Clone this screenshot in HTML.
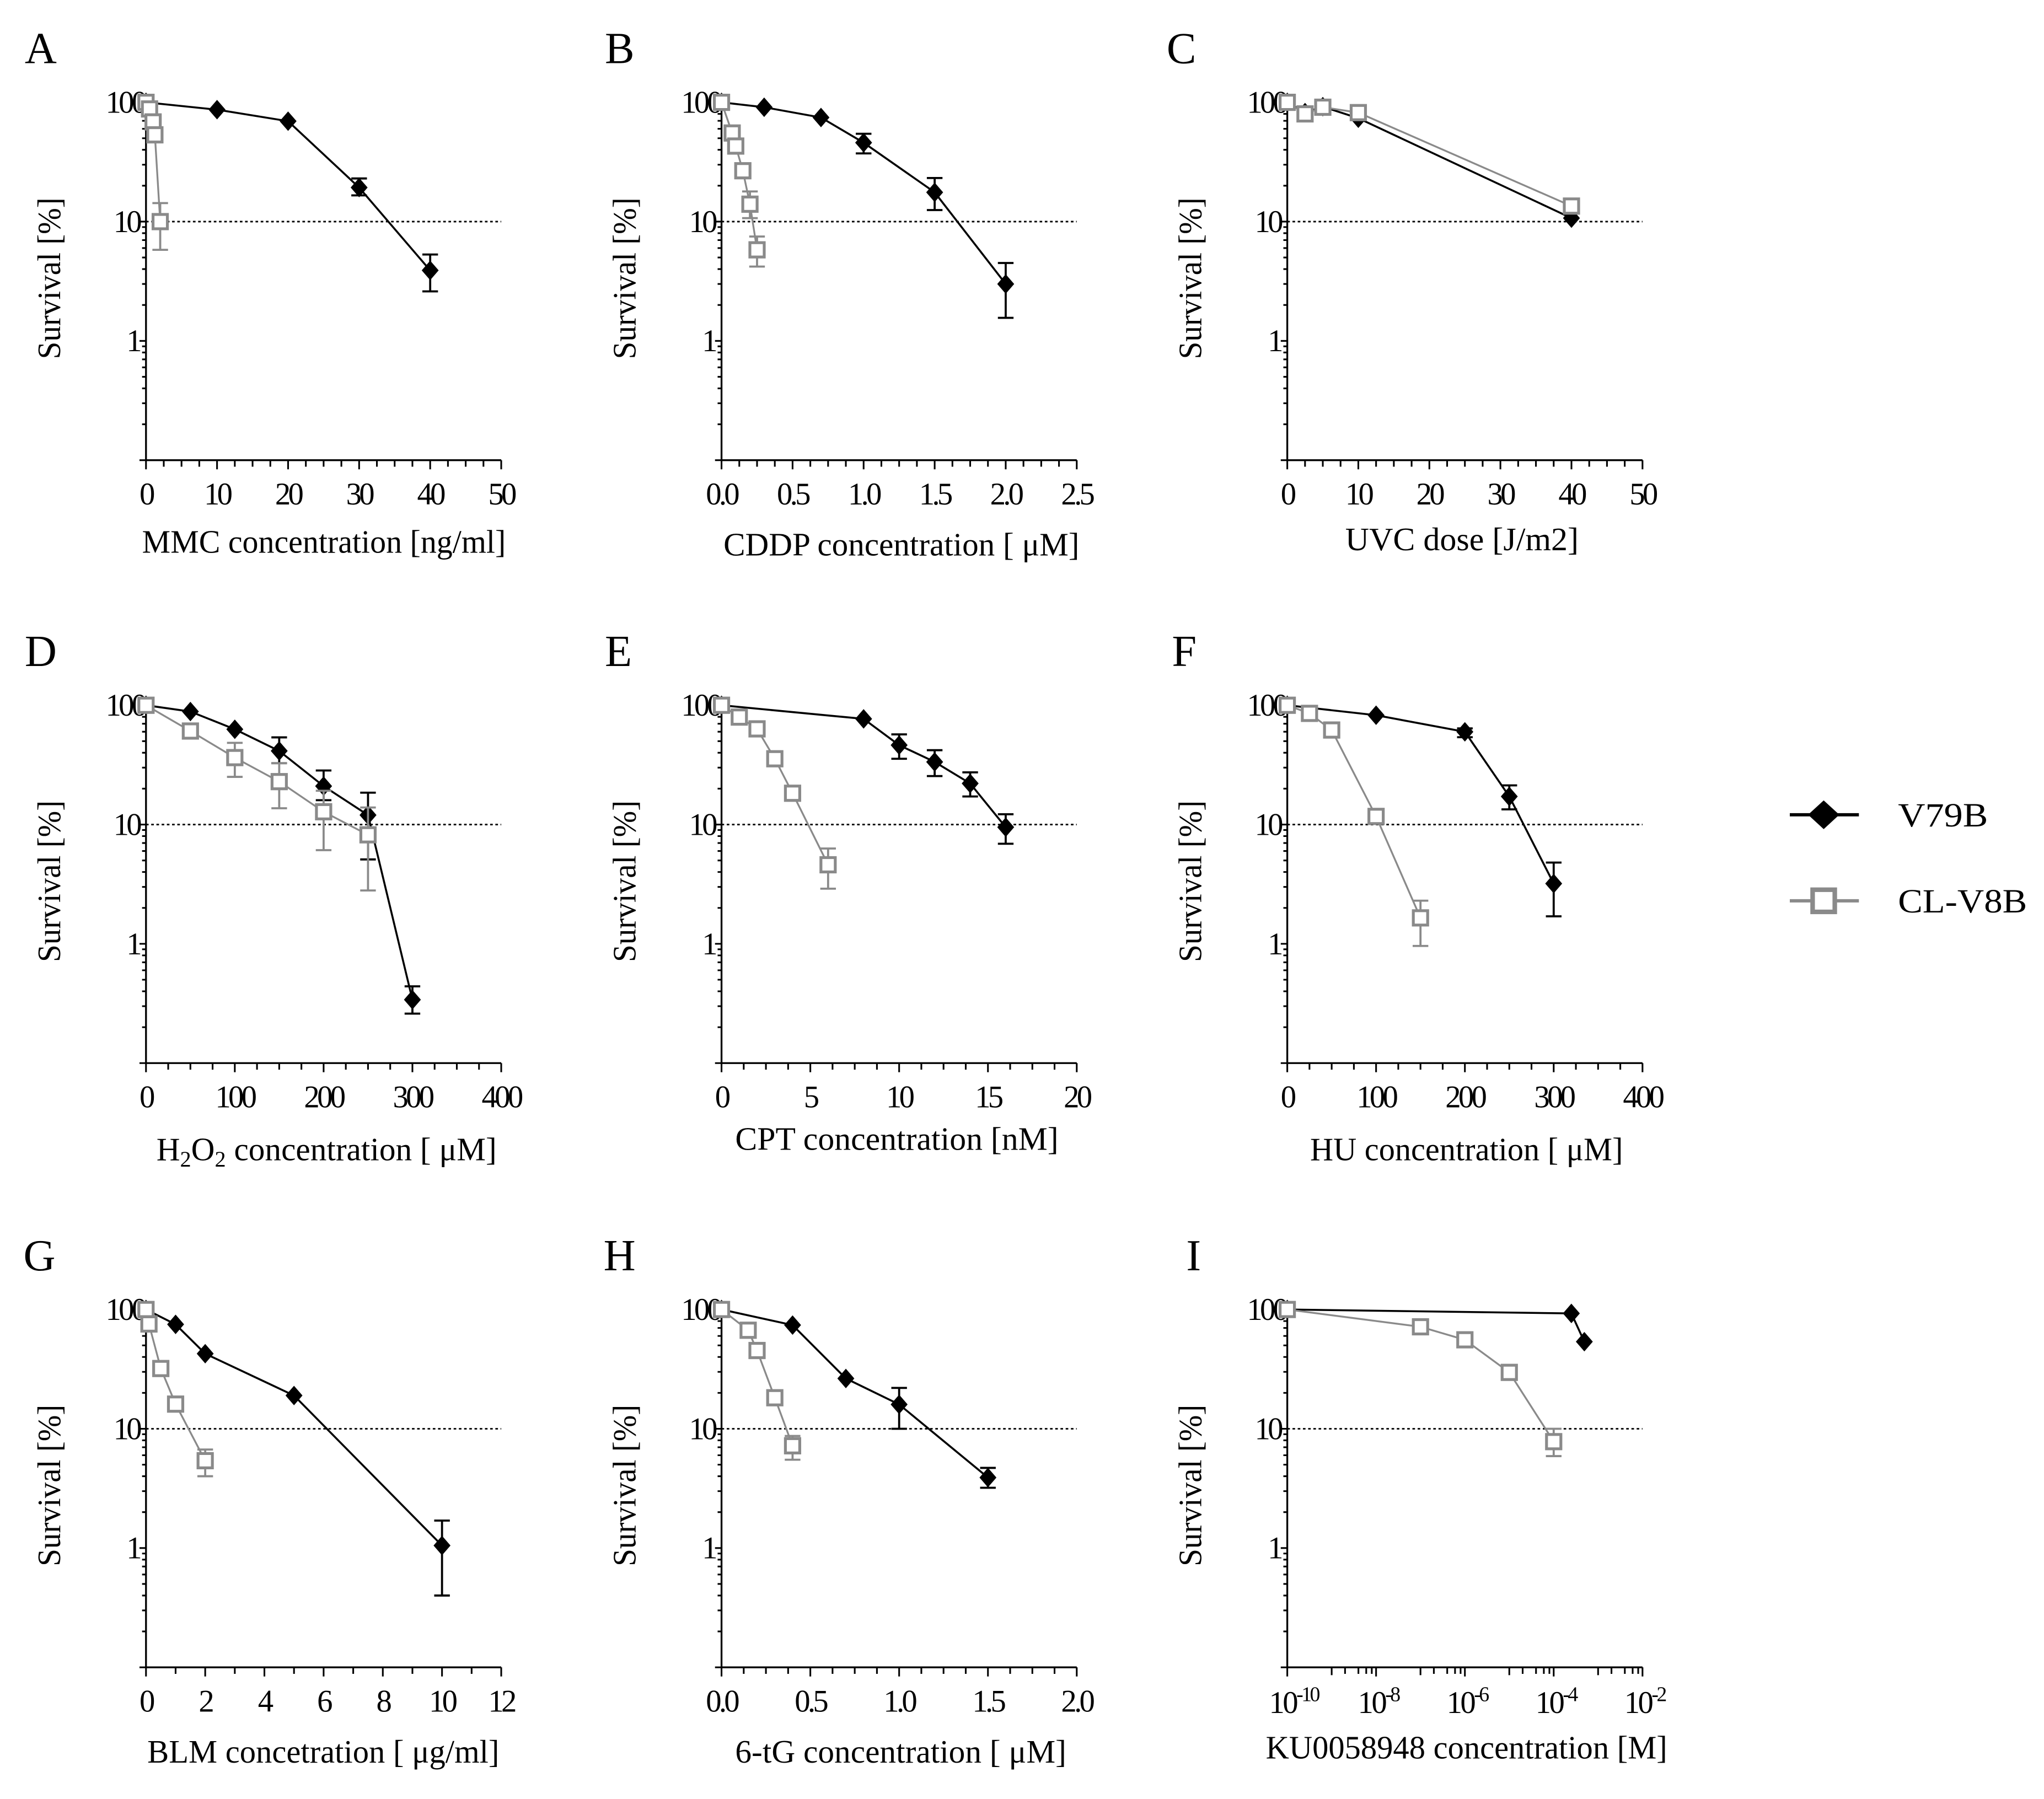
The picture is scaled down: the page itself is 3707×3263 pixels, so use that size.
<!DOCTYPE html>
<html><head><meta charset="utf-8"><title>Survival curves</title>
<style>
html,body{margin:0;padding:0;background:#fff;}
svg{display:block;}
text{font-family:"Liberation Serif","DejaVu Serif",serif;fill:#000;}
</style></head>
<body>
<svg id="fig" xmlns="http://www.w3.org/2000/svg" width="3707" height="3263" viewBox="0 0 1568 1380" preserveAspectRatio="none"></svg>
<script>
// ---------- DATA ----------
const A_v_x=[0,10,20,30,40];
const A_v_y=[100,86.8,69.5,19.3,3.9];
const A_v_lo=[null,null,null,16.6,2.6];
const A_v_hi=[null,null,null,23,5.3];
const A_c_x=[0,0.5,1,1.25,2];
const A_c_y=[100,88,68.5,53.4,10];
const A_c_lo=[null,null,null,null,5.8];
const A_c_hi=[null,null,null,null,14.3];
const B_v_x=[0,0.3,0.7,1.0,1.5,2.0];
const B_v_y=[100,91,74.6,45.9,17.6,3.0];
const B_v_lo=[null,null,null,37.3,12.5,1.56];
const B_v_hi=[null,null,null,54.5,23.2,4.5];
const B_c_x=[0,0.075,0.1,0.15,0.2,0.25];
const B_c_y=[100,55.3,43,26.7,14,5.8];
const B_c_lo=[null,null,null,null,10.7,4.2];
const B_c_hi=[null,null,null,null,17.9,7.5];
const C_v_x=[0,2.5,5,10,40];
const C_v_y=[100,82,92,73.6,10.7];
const C_v_lo=[null,null,null,null,null];
const C_v_hi=[null,null,null,null,null];
const C_c_x=[0,2.5,5,10,40];
const C_c_y=[100,80,91,82,13.5];
const C_c_lo=[null,null,null,null,null];
const C_c_hi=[null,null,null,null,null];
const D_v_x=[0,50,100,150,200,250,300];
const D_v_y=[100,88.6,62.9,41.4,21,12,0.34];
const D_v_lo=[null,null,null,32.7,16,5.1,0.26];
const D_v_hi=[null,null,null,53.8,28.4,18.5,0.44];
const D_c_x=[0,50,100,150,200,250];
const D_c_y=[100,60.8,36.4,22.9,12.8,8.2];
const D_c_lo=[null,null,25.1,13.7,6.1,2.8];
const D_c_hi=[null,null,48.4,32.7,19.2,13.9];
const E_v_x=[0,8,10,12,14,16];
const E_v_y=[100,76.9,46.3,33.5,22.1,9.5];
const E_v_lo=[null,null,35.6,25.5,17.2,6.9];
const E_v_hi=[null,null,57,42,27.4,12.2];
const E_c_x=[0,1,2,3,4,6];
const E_c_y=[100,79.6,63.4,35.6,18.3,4.6];
const E_c_lo=[null,null,null,null,null,2.9];
const E_c_hi=[null,null,null,null,null,6.3];
const F_v_x=[0,100,200,250,300];
const F_v_y=[100,82.5,59.9,17.2,3.2];
const F_v_lo=[null,null,54,13.4,1.7];
const F_v_hi=[null,null,64,21.3,4.8];
const F_c_x=[0,25,50,100,150];
const F_c_y=[100,85.5,62,11.7,1.65];
const F_c_lo=[null,null,null,null,0.96];
const F_c_hi=[null,null,null,null,2.3];
const G_v_x=[0,1,2,5,10];
const G_v_y=[100,75,42.6,19,1.05];
const G_v_lo=[null,null,null,null,0.4];
const G_v_hi=[null,null,null,null,1.7];
const G_c_x=[0,0.1,0.5,1,2];
const G_c_y=[100,75.6,32,16.1,5.4];
const G_c_lo=[null,null,null,null,4.0];
const G_c_hi=[null,null,null,null,6.7];
const H_v_x=[0,0.4,0.7,1.0,1.5];
const H_v_y=[100,74,26.4,16,3.9];
const H_v_lo=[null,null,null,10,3.2];
const H_v_hi=[null,null,null,22,4.7];
const H_c_x=[0,0.15,0.2,0.3,0.4];
const H_c_y=[100,67,45.3,18.2,7.2];
const H_c_lo=[null,null,null,null,5.5];
const H_c_hi=[null,null,null,null,8.7];
const I_v_x=[1e-10,2.5e-4,4.9e-4];
const I_v_y=[100,92.7,53.7];
const I_v_lo=[null,null,null];
const I_v_hi=[null,null,null];
const I_c_x=[1e-10,1e-7,1e-6,1e-5,1e-4];
const I_c_y=[100,71.6,55.7,29.7,7.8];
const I_c_lo=[null,null,null,null,5.9];
const I_c_hi=[null,null,null,null,10];
const A_ticks=[0,10,20,30,40,50];
const B_ticks=[0,0.5,1,1.5,2,2.5];
const D_ticks=[0,100,200,300,400];
const E_ticks=[0,5,10,15,20];
const G_ticks=[0,2,4,6,8,10,12];
const H_ticks=[0,0.5,1,1.5,2];
const I_ticks=[-10,-8,-6,-4,-2];
const yTicks=[1,10,100];

// ---------- LAYOUT ----------
const NS="http://www.w3.org/2000/svg";
const svg=document.getElementById('fig');
const COLX=[112,553.5,987.5], ROWY=[78.5,541,1004.5], W=272.5, DEC=91.5;
const GRAY="#8a8a8a";
function el(tag,attrs,parent){const e=document.createElementNS(NS,tag);for(const k in attrs)e.setAttribute(k,attrs[k]);(parent||svg).appendChild(e);return e;}

const panels=[
 {k:'A',c:0,r:0,xmin:0,xmax:50,minor:2.5,ticks:A_ticks,dec:0,title:'MMC concentration [ng/ml]',t0:109,t1:388,tb:424,lx:19,v:[A_v_x,A_v_y,A_v_lo,A_v_hi],cl:[A_c_x,A_c_y,A_c_lo,A_c_hi]},
 {k:'B',c:1,r:0,xmin:0,xmax:2.5,minor:0.125,ticks:B_ticks,dec:1,title:'CDDP concentration [ \u03bcM]',t0:555,t1:828,tb:426,lx:464,v:[B_v_x,B_v_y,B_v_lo,B_v_hi],cl:[B_c_x,B_c_y,B_c_lo,B_c_hi]},
 {k:'C',c:2,r:0,xmin:0,xmax:50,minor:2.5,ticks:A_ticks,dec:0,title:'UVC dose [J/m2]',t0:1032,t1:1211,tb:422,lx:895,v:[C_v_x,C_v_y,C_v_lo,C_v_hi],cl:[C_c_x,C_c_y,C_c_lo,C_c_hi]},
 {k:'D',c:0,r:1,xmin:0,xmax:400,minor:25,ticks:D_ticks,dec:0,title:'H2O2',t0:120,t1:381,tb:890,lx:19,v:[D_v_x,D_v_y,D_v_lo,D_v_hi],cl:[D_c_x,D_c_y,D_c_lo,D_c_hi]},
 {k:'E',c:1,r:1,xmin:0,xmax:20,minor:1.25,ticks:E_ticks,dec:0,title:'CPT concentration [nM]',t0:564,t1:812,tb:882,lx:464,v:[E_v_x,E_v_y,E_v_lo,E_v_hi],cl:[E_c_x,E_c_y,E_c_lo,E_c_hi]},
 {k:'F',c:2,r:1,xmin:0,xmax:400,minor:25,ticks:D_ticks,dec:0,title:'HU concentration [ \u03bcM]',t0:1005,t1:1245,tb:890,lx:899,v:[F_v_x,F_v_y,F_v_lo,F_v_hi],cl:[F_c_x,F_c_y,F_c_lo,F_c_hi]},
 {k:'G',c:0,r:2,xmin:0,xmax:12,minor:1,ticks:G_ticks,dec:0,title:'BLM concetration [ \u03bcg/ml]',t0:113,t1:383,tb:1352,lx:18,v:[G_v_x,G_v_y,G_v_lo,G_v_hi],cl:[G_c_x,G_c_y,G_c_lo,G_c_hi]},
 {k:'H',c:1,r:2,xmin:0,xmax:2,minor:0.125,ticks:H_ticks,dec:1,title:'6-tG concentration [ \u03bcM]',t0:564,t1:818,tb:1352,lx:463,v:[H_v_x,H_v_y,H_v_lo,H_v_hi],cl:[H_c_x,H_c_y,H_c_lo,H_c_hi]},
 {k:'I',c:2,r:2,log:true,xmin:-10,xmax:-2,ticks:I_ticks,title:'KU0058948 concentration [M]',t0:971,t1:1279,tb:1349,lx:910,v:[I_v_x,I_v_y,I_v_lo,I_v_hi],cl:[I_c_x,I_c_y,I_c_lo,I_c_hi]}
];

panels.forEach(p=>{
  const x0=COLX[p.c], y100=ROWY[p.r], yb=y100+3*DEC;
  const g=el('g',{});
  
  
  const xs=v=>{const u=p.log?Math.log10(v):v;return x0+(u-p.xmin)/(p.xmax-p.xmin)*W;};
  const ys=v=>y100+(2-Math.log10(v))*DEC;
  const L=el('text',{x:p.lx,y:ROWY[p.r]-30,'font-size':34},g);L.textContent=p.k;
  
  
  const ax=el('path',{d:`M${x0},${y100-1}V${yb}H${x0+W}`,stroke:'#000','stroke-width':1.4,fill:'none'},g);
  
  
  let d='';
  for(let e=-1;e<=1;e++){for(let m=1;m<=9;m++){const v=m*Math.pow(10,e);if(v<0.1||v>100)continue;const y=ys(v);const len=m===1?5:3;d+=`M${x0-len},${y}H${x0}`;}}
  d+=`M${x0-5},${ys(100)}H${x0}`;
  yTicks.forEach(v=>{const t=el('text',{x:v===100?x0-1:x0-5,y:ys(v)+8,'font-size':24,'text-anchor':'end','letter-spacing':-2},g);t.textContent=String(v);
    
    });
  if(!p.log){
    const n=Math.round((p.xmax-p.xmin)/p.minor);
    const per=Math.round((p.ticks[1]-p.ticks[0])/p.minor);
    for(let i=0;i<=n;i++){const x=xs(p.xmin+i*p.minor);d+=`M${x},${yb}V${yb+(i%per===0?7:5)}`;}
    p.ticks.forEach(v=>{const t=el('text',{x:xs(v),y:yb+34,'font-size':24,'text-anchor':'middle','letter-spacing':-2},g);t.textContent=p.dec?v.toFixed(1):String(v);
      
      });
  } else {
    for(let e=p.xmin;e<p.xmax;e+=2){
      d+=`M${xs(Math.pow(10,e))},${yb}V${yb+7}`;
      [1,2,4,6,8].forEach(m=>{const x=xs(m*Math.pow(10,e+1));d+=`M${x},${yb}V${yb+(m===1?6:5)}`;});
    }
    d+=`M${xs(Math.pow(10,p.xmax))},${yb}V${yb+7}`;
    p.ticks.forEach(e=>{const t=el('text',{x:xs(Math.pow(10,e))-14,y:yb+35,'font-size':24,'letter-spacing':-1.5},g);
      
      
      const a=el('tspan',{},t);a.textContent='10';const b=el('tspan',{dy:-9,'font-size':16},t);b.textContent=String(e);});
  }
  const tk=el('path',{d:d,stroke:'#000','stroke-width':1.3,fill:'none'},g);
  
  
  const yt=el('text',{transform:`translate(${x0-66},${y100+135}) rotate(-90)`,'font-size':25,'text-anchor':'middle',textLength:124,lengthAdjust:'spacingAndGlyphs'},g);
  yt.textContent='Survival [%]';
  
  
  const xt=el('text',{x:p.t0,y:p.tb,'font-size':25,textLength:p.t1-p.t0,lengthAdjust:'spacingAndGlyphs'},g);
  
  
  if(p.title==='H2O2'){
    const parts=[['H',0],['2',5],['O',-5],['2',5],[' concentration [ \u03bcM]',-5]];
    parts.forEach(([s,dy])=>{const ts=el('tspan',{dy:dy,'font-size':dy>0?17:25},xt);ts.textContent=s;});
  } else xt.textContent=p.title;
  const rl=el('line',{x1:x0,x2:x0+W,y1:ys(10),y2:ys(10),stroke:'#000','stroke-width':1.2,'stroke-dasharray':'2,2'},g);
  
  
  function series(arr,color,marker,name){
    const [X,Y,LO,HI]=arr;
    const sg=el('g',{},g);
    
    
    const pts=X.map((x,i)=>xs(x).toFixed(2)+','+ys(Y[i]).toFixed(2)).join(' ');
    el('polyline',{points:pts,fill:'none',stroke:color,'stroke-width':color==='#000'?1.5:1.4},sg);
    X.forEach((x,i)=>{
      if(LO[i]!=null){const cx=xs(x);const y1=ys(HI[i]),y2=ys(LO[i]);
        const eb=el('path',{d:`M${cx},${y1}V${y2}M${cx-6},${y1}H${cx+6}M${cx-6},${y2}H${cx+6}`,stroke:color,'stroke-width':1.6,fill:'none'},sg);
        
        }
    });
    X.forEach((x,i)=>{
      const cx=xs(x),cy=ys(Y[i]);let m;
      if(marker==='d') m=el('path',{d:`M${cx},${cy-7.5}L${cx+6.5},${cy}L${cx},${cy+7.5}L${cx-6.5},${cy}Z`,fill:'#000'},sg);
      else m=el('rect',{x:cx-5.5,y:cy-5.5,width:11,height:11,fill:'#fff',stroke:color,'stroke-width':2.2},sg);
      
      
    });
  }
  series(p.v,'#000','d','series-v79b');
  series(p.cl,GRAY,'s','series-cl-v8b');
});

const lg=el('g',{});


const e1=el('g',{},lg);


el('line',{x1:1373,x2:1426,y1:625,y2:625,stroke:'#000','stroke-width':2.5},e1);
el('path',{d:'M1399,614L1411,625L1399,636L1387,625Z',fill:'#000'},e1);
const t1=el('text',{x:1456,y:634,'font-size':26,textLength:69,lengthAdjust:'spacingAndGlyphs'},e1);t1.textContent='V79B';
const e2=el('g',{},lg);


el('line',{x1:1373,x2:1426,y1:691,y2:691,stroke:GRAY,'stroke-width':2.5},e2);
el('rect',{x:1390.5,y:682.5,width:17,height:17,fill:'#fff',stroke:GRAY,'stroke-width':3.5},e2);
const t2=el('text',{x:1456,y:700,'font-size':26,textLength:99,lengthAdjust:'spacingAndGlyphs'},e2);t2.textContent='CL-V8B';
</script>
</body></html>
